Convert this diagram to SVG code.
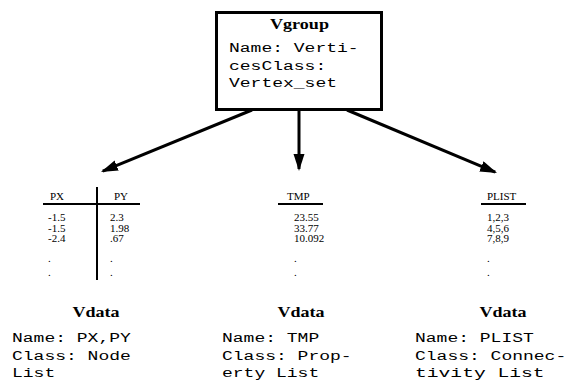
<svg xmlns="http://www.w3.org/2000/svg" width="568" height="381" viewBox="0 0 568 381">
<defs>
<style>
.h{font-family:"Liberation Serif","Times New Roman",serif;font-weight:bold;font-size:15px;fill:#000}
.m{font-family:"Liberation Mono","Courier New",monospace;font-size:12.5px;fill:#000}
.t{font-family:"Liberation Serif","Times New Roman",serif;font-size:11px;fill:#000}
.rule{stroke:#000;stroke-width:2;fill:none}
.conn{stroke:#000;stroke-width:3;fill:none;marker-end:url(#ah)}
</style>
<marker id="ah" markerUnits="userSpaceOnUse" markerWidth="18" markerHeight="12" refX="15" refY="5.5" orient="auto" viewBox="0 0 18 12">
<path d="M0,0 L17,5.5 L0,11 z" fill="#000"/>
</marker>
</defs>
<rect width="568" height="381" fill="#fff"/>
<g id="vgroup">
<rect x="216.5" y="12.5" width="165" height="97" fill="#fff" stroke="#000" stroke-width="3"/>
<text class="h" x="299.5" y="29" text-anchor="middle" textLength="59" lengthAdjust="spacingAndGlyphs">Vgroup</text>
<text class="m" x="229" y="52" textLength="129.6" lengthAdjust="spacingAndGlyphs">Name: Verti-</text>
<text class="m" x="229" y="70" textLength="97.2" lengthAdjust="spacingAndGlyphs">cesClass:</text>
<text class="m" x="229" y="87" textLength="108" lengthAdjust="spacingAndGlyphs">Vertex_set</text>
</g>
<g id="connectors">
<line class="conn" x1="252" y1="110" x2="102.8" y2="171.2"/>
<line class="conn" x1="299" y1="110" x2="299" y2="169"/>
<line class="conn" x1="347" y1="110" x2="495.2" y2="172.2"/>
</g>
<g id="vdata-pxpy">
<line class="rule" x1="43" y1="204" x2="140" y2="204"/>
<line class="rule" x1="97" y1="187" x2="97" y2="280"/>
<text class="t" x="50" y="200">PX</text>
<text class="t" x="114" y="200">PY</text>
<text class="t" x="48" y="221">-1.5</text>
<text class="t" x="48" y="231.5">-1.5</text>
<text class="t" x="48" y="242">-2.4</text>
<text class="t" x="48" y="262">.</text>
<text class="t" x="48" y="276">.</text>
<text class="t" x="110" y="221">2.3</text>
<text class="t" x="110" y="231.5">1.98</text>
<text class="t" x="110" y="242">.67</text>
<text class="t" x="110" y="262">.</text>
<text class="t" x="110" y="276">.</text>
<text class="h" x="96" y="317" text-anchor="middle" textLength="47" lengthAdjust="spacingAndGlyphs">Vdata</text>
<text class="m" x="12" y="342" textLength="118.8" lengthAdjust="spacingAndGlyphs">Name: PX,PY</text>
<text class="m" x="12" y="359.5" textLength="118.8" lengthAdjust="spacingAndGlyphs">Class: Node</text>
<text class="m" x="12" y="377" textLength="43.2" lengthAdjust="spacingAndGlyphs">List</text>
</g>
<g id="vdata-tmp">
<line class="rule" x1="278" y1="204" x2="323" y2="204"/>
<text class="t" x="287" y="200">TMP</text>
<text class="t" x="294" y="221">23.55</text>
<text class="t" x="294" y="231.5">33.77</text>
<text class="t" x="294" y="242">10.092</text>
<text class="t" x="294" y="262">.</text>
<text class="t" x="294" y="276">.</text>
<text class="h" x="301" y="317" text-anchor="middle" textLength="47" lengthAdjust="spacingAndGlyphs">Vdata</text>
<text class="m" x="222" y="342" textLength="97.2" lengthAdjust="spacingAndGlyphs">Name: TMP</text>
<text class="m" x="222" y="359.5" textLength="129.6" lengthAdjust="spacingAndGlyphs">Class: Prop-</text>
<text class="m" x="222" y="377" textLength="97.2" lengthAdjust="spacingAndGlyphs">erty List</text>
</g>
<g id="vdata-plist">
<line class="rule" x1="481" y1="204" x2="526" y2="204"/>
<text class="t" x="487" y="200">PLIST</text>
<text class="t" x="487" y="221">1,2,3</text>
<text class="t" x="487" y="231.5">4,5,6</text>
<text class="t" x="487" y="242">7,8,9</text>
<text class="t" x="487" y="262">.</text>
<text class="t" x="487" y="276">.</text>
<text class="h" x="503" y="317" text-anchor="middle" textLength="47" lengthAdjust="spacingAndGlyphs">Vdata</text>
<text class="m" x="415" y="342" textLength="118.8" lengthAdjust="spacingAndGlyphs">Name: PLIST</text>
<text class="m" x="415" y="359.5" textLength="151.2" lengthAdjust="spacingAndGlyphs">Class: Connec-</text>
<text class="m" x="415" y="377" textLength="129.6" lengthAdjust="spacingAndGlyphs">tivity List</text>
</g>
</svg>
